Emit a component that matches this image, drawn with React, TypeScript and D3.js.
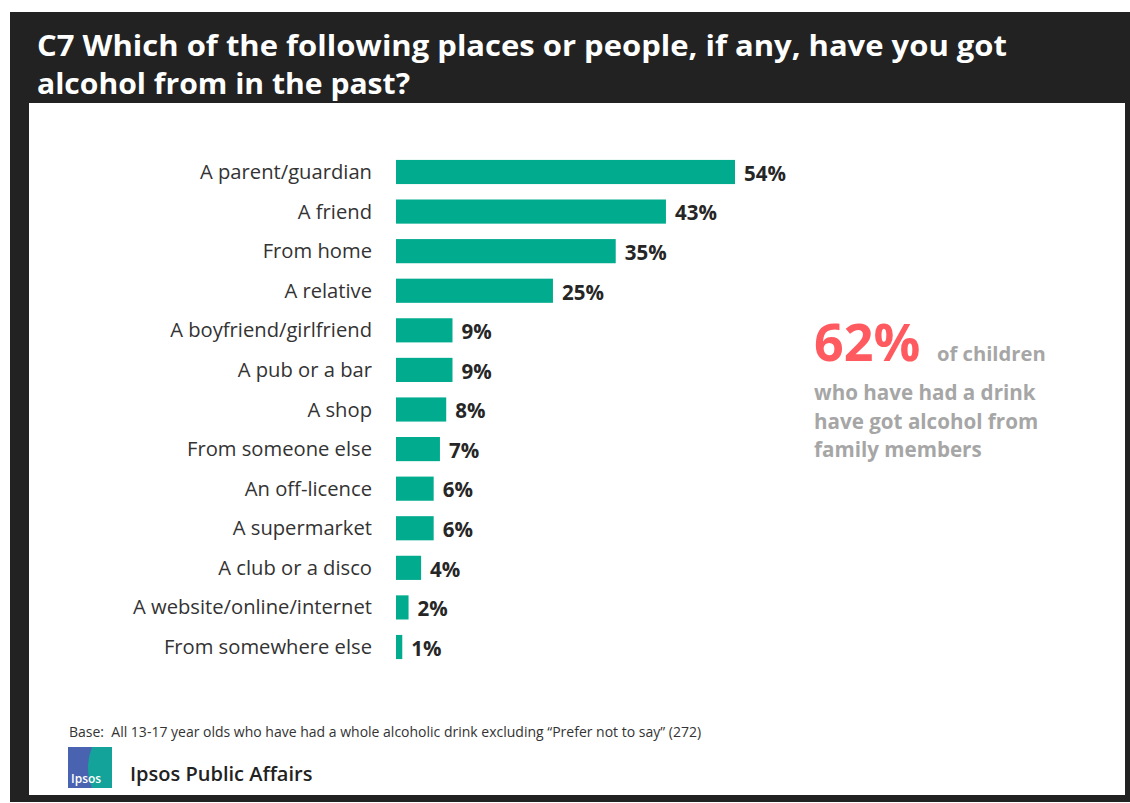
import React from "react";
import * as d3 from "d3";

const categories = [
  "A parent/guardian",
  "A friend",
  "From home",
  "A relative",
  "A boyfriend/girlfriend",
  "A pub or a bar",
  "A shop",
  "From someone else",
  "An off-licence",
  "A supermarket",
  "A club or a disco",
  "A website/online/internet",
  "From somewhere else",
];
const values = [54, 43, 35, 25, 9, 9, 8, 7, 6, 6, 4, 2, 1];

const titleLines = [
  "C7 Which of the following places or people, if any, have you got",
  "alcohol from in the past?",
];
const calloutBig = "62%";
const calloutLines = ["who have had a drink", "have got alcohol from", "family members"];
const baseText =
  "Base:  All 13-17 year olds who have had a whole alcoholic drink excluding \u201cPrefer not to say\u201d (272)";

const W = 1130;
const H = 803;
const FONT = "'Open Sans', 'Noto Sans', sans-serif";

export default function App() {
  const x = d3.scaleLinear().domain([0, 54]).range([396, 735]);
  const y = d3.scaleBand<string>().domain(categories).range([152, 667]).paddingInner(0.39).paddingOuter(0.2);

  return (
    <svg width={W} height={H} style={{ position: "absolute", left: 0, top: 0, display: "block" }}>
      <rect x={0} y={0} width={W} height={H} fill="#ffffff" />
      <rect x={10} y={12} width={W - 10} height={790} fill="#222222" />
      <rect x={29} y={103} width={1096} height={692} fill="#ffffff" />
      {titleLines.map((t, i) => (
        <text
          key={i}
          x={37}
          y={56 + i * 38}
          fill="#ffffff"
          fontFamily={FONT}
          fontWeight={700}
          fontSize={29}
          textLength={i === 0 ? 970 : 373}
          lengthAdjust="spacingAndGlyphs"
        >
          {t}
        </text>
      ))}
      {categories.map((c, i) => {
        const yy = y(c)!;
        const bw = y.bandwidth();
        return (
          <g key={c}>
            <text
              x={372}
              y={yy + bw / 2}
              dy="0.35em"
              textAnchor="end"
              fill="#333333"
              fontFamily={FONT}
              fontSize={20.2}
            >
              {c}
            </text>
            <rect x={x(0)} y={yy} width={x(values[i]) - x(0)} height={bw} fill="#00ab8e" />
            <text
              x={x(values[i]) + 9}
              y={yy + bw / 2 + 1}
              dy="0.38em"
              fill="#262626"
              fontFamily={FONT}
              fontWeight={700}
              fontSize={20.5}
            >
              {values[i]}%
            </text>
          </g>
        );
      })}
      <text x={814} y={361} fill="#ff5a5f" fontFamily={FONT} fontWeight={700} fontSize={52}>
        {calloutBig}
      </text>
      <text x={937} y={361} fill="#a6a6a6" fontFamily={FONT} fontWeight={700} fontSize={20.2}>
        of children
      </text>
      {calloutLines.map((t, i) => (
        <text key={i} x={814} y={400 + i * 28.5} fill="#a6a6a6" fontFamily={FONT} fontWeight={700} fontSize={20.6}>
          {t}
        </text>
      ))}
      <text x={69} y={737} fill="#333333" fontFamily={FONT} fontSize={14} style={{ whiteSpace: "pre" }}>
        {baseText}
      </text>
      <g>
        <rect x={68} y={747} width={44} height={41} fill="#14a39a" />
        <path d="M68,747 L92,747 Q84,768 92,788 L68,788 Z" fill="#4a63b0" />
        <text x={71} y={783} fill="#ffffff" fontFamily={FONT} fontWeight={600} fontSize={12}>
          Ipsos
        </text>
      </g>
      <text x={130} y={781} fill="#222222" fontFamily={FONT} fontWeight={600} fontSize={20}>
        Ipsos Public Affairs
      </text>
    </svg>
  );
}
